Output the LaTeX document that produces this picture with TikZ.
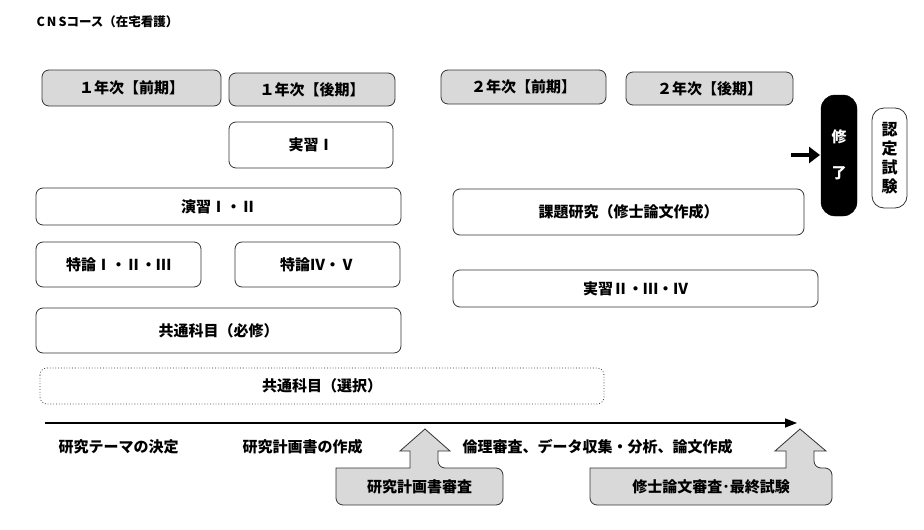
\documentclass[tikz,border=0pt]{standalone}
\usepackage{fontspec}
\usetikzlibrary{arrows.meta}
\setmainfont{Noto Sans CJK JP}
\begin{document}
\begin{tikzpicture}[x=1pt,y=-1pt,
  bx/.style={draw=black!80,line width=0.8pt,rounded corners=7pt},
  gbox/.style={bx,fill=black!15},
  lab/.style={font=\bfseries\fontsize{15}{18}\selectfont},
  call/.style={draw=black!80,line width=0.8pt,fill=black!15,rounded corners=7pt}]
\useasboundingbox (0,0) rectangle (924,530);
\node[anchor=west,font=\bfseries\fontsize{12.5}{14}\selectfont] (title) at (33,22) {C\,N\,Sコース（在宅看護）};
\newcommand{\rbox}[6]{\draw[#1] (#2,#3) rectangle (#4,#5); \node[lab] at ({(#2+#4)/2},{(#3+#5)/2}) {#6};}
\rbox{gbox}{42}{70}{221}{106}{１年次【前期】}
\rbox{gbox}{229}{73}{395}{106}{１年次【後期】}
\rbox{gbox}{441}{70}{606}{104}{２年次【前期】}
\rbox{gbox}{626}{72}{793}{105}{２年次【後期】}
\rbox{bx}{229}{122}{393}{168}{実習Ⅰ}
\rbox{bx}{36}{188}{401}{225}{演習Ⅰ・Ⅱ}
\rbox{bx}{36}{242}{201}{287}{特論Ⅰ・Ⅱ・Ⅲ}
\rbox{bx}{235}{242}{400}{287}{特論Ⅳ・Ⅴ}
\rbox{bx}{36}{308}{401}{353}{共通科目（必修）}
\rbox{bx,dotted}{40}{368}{604}{404}{共通科目（選択）}
\rbox{bx}{453}{189}{804}{235}{課題研究（修士論文作成）}
\rbox{bx}{453}{270}{818}{307}{実習Ⅱ・Ⅲ・Ⅳ}
\draw[fill=black,rounded corners=14pt] (821,95) rectangle (857,216);
\node[lab,text=white,align=center] (shu) at (839,155) {修\\[18pt]了};
\draw[bx,rounded corners=12pt] (872,108) rectangle (907,208);
\node[font=\bfseries\fontsize{16}{19}\selectfont,align=center] (nin) at (889.5,158) {認\\定\\試\\験};
\coordinate (a0) at (791,155);
\coordinate (a1) at (820,155);
\draw[line width=4pt,-{Triangle[length=11pt,width=16pt]}] (a0) -- (a1);
\coordinate (t0) at (45,423); \coordinate (t1) at (797,423);
\draw[line width=1.5pt,-{Triangle[length=12pt,width=9pt]}] (t0) -- (t1);
\node[lab,anchor=west] (w1) at (55,447) {研究テーマの決定};
\node[lab,anchor=west] (w2) at (239,447) {研究計画書の作成};
\node[lab,anchor=west] (w3) at (459,447) {倫理審査、データ収集・分析、論文作成};
\draw[call] (410,468) -- (351,468) [sharp corners]-- (336,468) [rounded corners=7pt]-- (336,505) -- (503,505) -- (503,468) -- (438,468) [sharp corners]-- (438,451) -- (450,451) -- (425,429) -- (400,451) -- (410,451) -- cycle;
\node[lab] (c1) at (419.5,486.5) {研究計画書審査};
\draw[call] (786,468) -- (605,468) [sharp corners]-- (590,468) [rounded corners=7pt]-- (590,505) -- (832,505) -- (832,468) -- (814,468) [sharp corners]-- (814,451) -- (826,451) -- (800,429) -- (775,451) -- (786,451) -- cycle;
\node[lab] (c2) at (711,486.5) {修士論文審査･最終試験};
\end{tikzpicture}
\end{document}
